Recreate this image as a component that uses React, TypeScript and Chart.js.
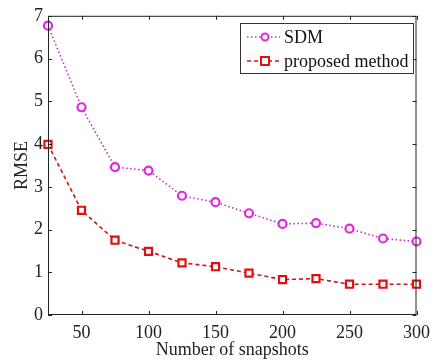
import React, { useEffect, useRef } from "react";
import { Chart, registerables } from "chart.js";

Chart.register(...registerables);

const snapshots = [25, 50, 75, 100, 125, 150, 175, 200, 225, 250, 275, 300];
const sdm = [6.77, 4.86, 3.46, 3.38, 2.79, 2.64, 2.38, 2.13, 2.15, 2.02, 1.79, 1.72];
const proposed = [3.99, 2.45, 1.75, 1.49, 1.22, 1.13, 0.98, 0.83, 0.85, 0.72, 0.72, 0.72];
const xTicks = [50, 100, 150, 200, 250, 300];
const yTicks = [0, 1, 2, 3, 4, 5, 6, 7];
const seriesNames = ["SDM", "proposed method"];

const FONT = "'Liberation Serif', 'Times New Roman', serif";
const SDM_COLOR = "#e028e0";
const SDM_LINE = "#c030c8";
const PM_COLOR = "#e01010";
const PM_LINE = "#c81818";

const framePlugin = {
  id: "frame",
  afterDraw(chart: any) {
    const { ctx, chartArea: a, scales } = chart;
    const x = scales.x;
    const y = scales.y;
    ctx.save();
    ctx.strokeStyle = "#222";
    ctx.lineWidth = 1;
    ctx.strokeRect(a.left + 0.5, a.top + 0.5, a.right - a.left - 1, a.bottom - a.top - 1);
    const tl = 4;
    ctx.beginPath();
    xTicks.forEach((v) => {
      const px = Math.round(x.getPixelForValue(v)) + 0.5;
      ctx.moveTo(px, a.bottom);
      ctx.lineTo(px, a.bottom - tl);
      ctx.moveTo(px, a.top);
      ctx.lineTo(px, a.top + tl);
    });
    yTicks.forEach((v) => {
      const py = Math.round(y.getPixelForValue(v)) + 0.5;
      ctx.moveTo(a.left, py);
      ctx.lineTo(a.left + tl, py);
      ctx.moveTo(a.right, py);
      ctx.lineTo(a.right - tl, py);
    });
    ctx.stroke();

    // legend
    const bw = 173;
    const bh = 50;
    const bx = Math.round(a.right - 4 - bw);
    const by = Math.round(a.top + 7);
    ctx.fillStyle = "#fff";
    ctx.fillRect(bx, by, bw, bh);
    ctx.strokeStyle = "#333";
    ctx.lineWidth = 1;
    ctx.strokeRect(bx + 0.5, by + 0.5, bw, bh);
    const rows = [
      { name: seriesNames[0], line: SDM_LINE, mark: SDM_COLOR, dash: [1.5, 2.5], shape: "circle" },
      { name: seriesNames[1], line: PM_LINE, mark: PM_COLOR, dash: [4, 3], shape: "rect" },
    ];
    rows.forEach((r, i) => {
      const cy = by + 14 + i * 24;
      ctx.strokeStyle = r.line;
      ctx.lineWidth = 1.6;
      ctx.setLineDash(r.dash);
      ctx.beginPath();
      ctx.moveTo(bx + 7, cy);
      ctx.lineTo(bx + 40, cy);
      ctx.stroke();
      ctx.setLineDash([]);
      const mx = bx + 25;
      ctx.lineWidth = 2;
      ctx.strokeStyle = r.mark;
      ctx.fillStyle = "#fff";
      ctx.beginPath();
      if (r.shape === "circle") {
        ctx.arc(mx, cy, 3.5, 0, Math.PI * 2);
      } else {
        ctx.rect(mx - 4, cy - 4, 8, 8);
      }
      ctx.fill();
      ctx.stroke();
      ctx.fillStyle = "#111";
      ctx.font = `18px ${FONT}`;
      ctx.textBaseline = "middle";
      ctx.textAlign = "left";
      ctx.fillText(r.name, bx + 44, cy + 1);
    });
    ctx.restore();
  },
};

export default function App() {
  const ref = useRef<HTMLCanvasElement>(null);
  useEffect(() => {
    document.body.style.margin = "0";
    const chart = new Chart(ref.current!, {
      type: "line",
      data: {
        labels: snapshots,
        datasets: [
          {
            label: seriesNames[0],
            data: snapshots.map((s, i) => ({ x: s, y: sdm[i] })),
            borderColor: SDM_LINE,
            borderWidth: 1.6,
            borderDash: [1.5, 2.5],
            pointStyle: "circle",
            pointRadius: 4,
            pointBorderWidth: 2.2,
            pointBorderColor: SDM_COLOR,
            pointBackgroundColor: "#fff",
            tension: 0,
            clip: false,
          },
          {
            label: seriesNames[1],
            data: snapshots.map((s, i) => ({ x: s, y: proposed[i] })),
            borderColor: PM_LINE,
            borderWidth: 1.6,
            borderDash: [4, 3],
            pointStyle: "rect",
            pointRadius: 5,
            pointBorderWidth: 2.2,
            pointBorderColor: PM_COLOR,
            pointBackgroundColor: "#fff",
            tension: 0,
            clip: false,
          },
        ],
      },
      options: {
        animation: false,
        responsive: false,
        maintainAspectRatio: false,
        layout: { padding: { top: 12, right: 16, left: 0, bottom: 0 } },
        plugins: { legend: { display: false }, tooltip: { enabled: false } },
        scales: {
          x: {
            type: "linear",
            min: 25,
            max: 300,
            grid: { display: false, drawTicks: false },
            border: { display: false },
            afterBuildTicks: (s: any) => {
              s.ticks = xTicks.map((v) => ({ value: v }));
            },
            afterFit: (s: any) => {
              s.height = 48;
            },
            ticks: {
              padding: 7,
              color: "#222",
              font: { family: FONT, size: 18 },
              maxRotation: 0,
            },
            title: {
              display: true,
              text: "Number of snapshots",
              color: "#222",
              font: { family: FONT, size: 18 },
              padding: { top: 0, bottom: 2 },
            },
          },
          y: {
            min: 0,
            max: 7,
            grid: { display: false, drawTicks: false },
            border: { display: false },
            afterBuildTicks: (s: any) => {
              s.ticks = yTicks.map((v) => ({ value: v }));
            },
            afterFit: (s: any) => {
              s.width = 48;
            },
            ticks: {
              padding: 5,
              color: "#222",
              font: { family: FONT, size: 18 },
            },
            title: {
              display: true,
              text: "RMSE",
              color: "#222",
              font: { family: FONT, size: 18 },
              padding: { top: 11, bottom: 0 },
            },
          },
        },
      },
      plugins: [framePlugin],
    } as any);
    return () => chart.destroy();
  }, []);
  return (
    <div style={{ position: "absolute", left: 0, top: 0, width: 437, height: 363 }}>
      <canvas ref={ref} width={437} height={363} style={{ width: 437, height: 363 }} />
    </div>
  );
}
